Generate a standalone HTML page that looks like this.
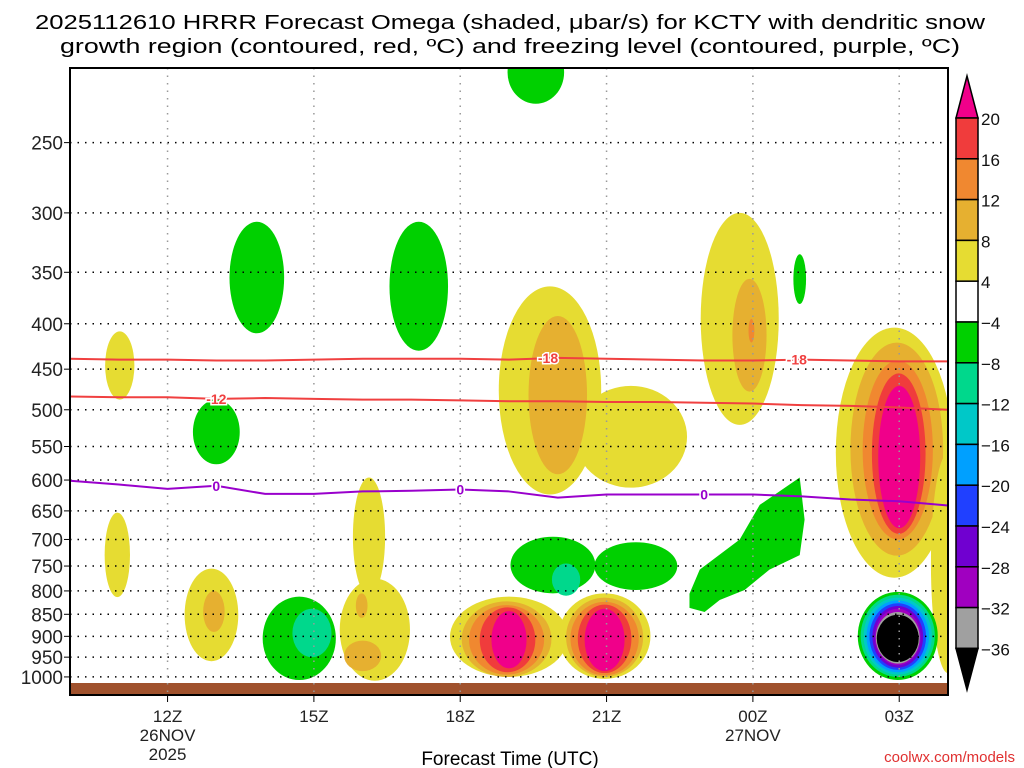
<!DOCTYPE html>
<html><head><meta charset="utf-8"><style>
html,body{margin:0;padding:0;background:#fff}
svg{display:block}
text{font-family:"Liberation Sans",sans-serif}
</style></head><body>
<svg id="c" width="1024" height="768" viewBox="0 0 1024 768">
<defs><clipPath id="pc"><rect x="70" y="68" width="878" height="627"/></clipPath></defs>
<text x="510" y="29" text-anchor="middle" font-size="20" textLength="950" lengthAdjust="spacingAndGlyphs">2025112610 HRRR Forecast Omega (shaded, μbar/s) for KCTY with dendritic snow</text>
<text x="510" y="53" text-anchor="middle" font-size="20" textLength="900" lengthAdjust="spacingAndGlyphs">growth region (contoured, red, ºC) and freezing level (contoured, purple, ºC)</text>
<g id="plot" clip-path="url(#pc)"></g>
<g id="axes"></g>
<text x="510" y="765" text-anchor="middle" font-size="19">Forecast Time (UTC)</text>
<text x="1015" y="762" text-anchor="end" font-size="15" fill="#e03030" font-family="Liberation Mono, monospace">coolwx.com/models</text>
</svg>
<script>
const NS="http://www.w3.org/2000/svg";
const hourMin=0, hourMax=18;
const pTop=206, pBot=1048;
const pLevels=[250,300,350,400,450,500,550,600,650,700,750,800,850,900,950,1000];
const timeTickHours=[2,5,8,11,14,17];
const timeTickLabels=[["12Z","26NOV","2025"],["15Z"],["18Z"],["21Z"],["00Z","27NOV"],["03Z"]];
const cbLevels=["20","16","12","8","4","−4","−8","−12","−16","−20","−24","−28","−32","−36"];
const cbColors=["#f03c3c","#f08830","#e6b030","#e6dc32","#ffffff","#00d000","#00d88c","#00c8c8","#00a0ff","#2040ff","#7000d0","#a000c0","#a0a0a0"];
const colAbove="#f0008a", colBelow="#000000";
const shade=["#e6dc32","#e6b030","#f08830","#f03c3c","#f0008a","#00d000","#00d88c","#00c8c8","#00a0ff","#2040ff","#7000d0","#a000c0","#a0a0a0","#000000"];
const blobT=[9.55,3.83,7.15,1.02,3.0, 9.84,11.5,10.0, 13.73,13.93,13.97, 14.96,
 16.9,16.95,16.97,16.99,17.0,18.0,
 9.0,8.95,8.95,8.97,9.0, 10.96,10.96,10.96,10.96,10.96,
 9.9,11.6,10.17, 0.97, 2.9,2.95, 4.7,4.96, 6.13,6.25,5.98,6.0,
 16.97,16.97,16.97,16.97,16.97,16.97,16.97,16.97,16.97];
const blobR=[0.58,0.56,0.6,0.3,0.48, 1.05,1.15,0.6, 0.8,0.35,0.06, 0.13,
 1.2,0.95,0.72,0.55,0.43,0.35,
 1.21,0.92,0.77,0.57,0.36, 0.94,0.79,0.7,0.55,0.41,
 0.87,0.85,0.29, 0.26, 0.55,0.22, 0.75,0.4, 0.33,0.72,0.12,0.38,
 0.82,0.76,0.7,0.64,0.58,0.52,0.47,0.45,0.43];
const blobTop=[192,307,307,408,487, 363,470,392, 300,356,395, 334,
 404,420,440,455,470,560,
 812,822,830,835,843, 805,814,823,829,838,
 695,705,745, 653, 755,800, 812,838, 596,775,805,910,
 802,808,814,820,826,832,838,845,851];
const blobBot=[226,410,429,487,576, 623,612,591, 520,477,420, 380,
 773,730,700,690,680,990,
 1000,1000,994,988,978, 1005,1000,996,990,985,
 805,798,810, 813, 960,890, 1008,950, 810,1010,858,985,
 1008,1000,994,988,982,976,970,966,962];
const blobC=[5,5,5,0,5, 0,0,1, 0,1,2, 5,
 0,1,2,3,4,0,
 0,1,2,3,4, 0,1,2,3,4,
 5,5,6, 0, 0,1, 5,6, 0,0,1,1,
 5,6,7,8,9,10,11,12,13];
const polyH=[12.70,12.91,13.73,14.14,14.96,15.06,14.96,14.34,13.83,13.32,13.01,12.70];
const polyP=[806,757,700,640,596,665,729,757,798,819,845,836];
const lineHours=[0,1,2,3,4,5,6,7,8,9,10,11,12,13,14,15,16,17,18];
const m18P=[438,439,439,440,440,439,438,438,438,439,437,438,439,440,440,439,440,441,441];
const m12P=[483,484,484,486,485,486,487,487,488,489,489,490,490,491,492,494,495,497,500];
const zeroP=[601,607,614,609,622,622,618,617,615,618,628,623,623,623,623,626,631,634,641];
const m18Lab=[9.8,14.9], m12Lab=[3.0], zeroLab=[3.0,8.0,13.0];

const X0=70,X1=948,Y0=68,Y1=695;
const x=h=>X0+(h-hourMin)/(hourMax-hourMin)*(X1-X0);
const y=p=>Y0+Math.log(p/pTop)/Math.log(pBot/pTop)*(Y1-Y0);
function el(tag,attrs,parent){const e=document.createElementNS(NS,tag);for(const k in attrs)e.setAttribute(k,attrs[k]);parent.appendChild(e);return e;}
const plot=document.getElementById('plot'), axes=document.getElementById('axes');

for(let i=0;i<blobT.length;i++){
  const cx=x(blobT[i]), yt=y(blobTop[i]), yb=y(blobBot[i]);
  const rx=blobR[i]*(X1-X0)/(hourMax-hourMin);
  const e=el('ellipse',{cx:cx,cy:(yt+yb)/2,rx:rx,ry:(yb-yt)/2,fill:shade[blobC[i]]},plot);
  
  
}
{
  const pts=polyH.map((h,i)=>x(h)+','+y(polyP[i])).join(' ');
  const e=el('polygon',{points:pts,fill:shade[5]},plot);
  
  
}
{const e=el('rect',{x:X0,y:683,width:X1-X0,height:12,fill:'#a0522d'},plot);

}

pLevels.forEach(p=>{
  const g=el('line',{x1:X0,x2:X1,y1:y(p),y2:y(p),stroke:'#000','stroke-width':1.5,'stroke-dasharray':'1.5 6'},plot);
  
  
});
timeTickHours.forEach(h=>{
  const g=el('line',{x1:x(h),x2:x(h),y1:Y0,y2:Y1,stroke:'#999','stroke-width':1.5,'stroke-dasharray':'1.5 6'},plot);
  
  
});

function contour(arr,color,labels,txt,name){
  const d=lineHours.map((h,i)=>(i?'L':'M')+x(h)+','+y(arr[i])).join(' ');
  const l=el('path',{d:d,fill:'none',stroke:color,'stroke-width':2},plot);
  
  
  labels.forEach(h=>{
    const i=Math.floor(h), f=h-i, p=arr[i]+(arr[Math.min(i+1,18)]-arr[i])*f;
    const t=el('text',{x:x(h),y:y(p)+5,'text-anchor':'middle','font-size':14,'font-weight':'bold',fill:color,stroke:'#fff','stroke-width':3,'paint-order':'stroke'},plot);
    t.textContent=txt;
    
    
  });
}
contour(m18P,'#f04040',m18Lab,'-18','dgz-minus18-contour');
contour(m12P,'#f04040',m12Lab,'-12','dgz-minus12-contour');
contour(zeroP,'#9900cc',zeroLab,'0','freezing-level-contour');

{const f=el('rect',{x:X0,y:Y0,width:X1-X0,height:Y1-Y0,fill:'none',stroke:'#000','stroke-width':2},axes);

}
pLevels.forEach(p=>{
  el('line',{x1:X0-6,x2:X0,y1:y(p),y2:y(p),stroke:'#000'},axes);
  const t=el('text',{x:X0-7,y:y(p)+7,'text-anchor':'end','font-size':19,fill:'#222'},axes);
  t.textContent=p;
  
  
});
timeTickHours.forEach((h,i)=>{
  el('line',{x1:x(h),x2:x(h),y1:Y1,y2:Y1+7,stroke:'#000'},axes);
  timeTickLabels[i].forEach((s,j)=>{
    const t=el('text',{x:x(h),y:722+j*19,'text-anchor':'middle','font-size':17,fill:'#222'},axes);
    t.textContent=s;
    
    
  });
});
const cbX=956,cbW=22,cbTop=118,cbStep=40.8;
{const a=el('polygon',{points:`${cbX},${cbTop} ${cbX+cbW},${cbTop} ${cbX+cbW/2},76`,fill:colAbove,stroke:'#000','stroke-width':1.5},axes);

}
cbColors.forEach((c,i)=>{
  const r=el('rect',{x:cbX,y:cbTop+i*cbStep,width:cbW,height:cbStep,fill:c,stroke:'#000','stroke-width':1.5},axes);
  
  
});
const cbBot=cbTop+cbColors.length*cbStep;
{const a=el('polygon',{points:`${cbX},${cbBot} ${cbX+cbW},${cbBot} ${cbX+cbW/2},690`,fill:colBelow,stroke:'#000','stroke-width':1.5},axes);

}
cbLevels.forEach((s,i)=>{
  const t=el('text',{x:cbX+cbW+3,y:cbTop+i*cbStep+7,'font-size':17,fill:'#111'},axes);
  t.textContent=s;
  
  
});
</script>
</body></html>
